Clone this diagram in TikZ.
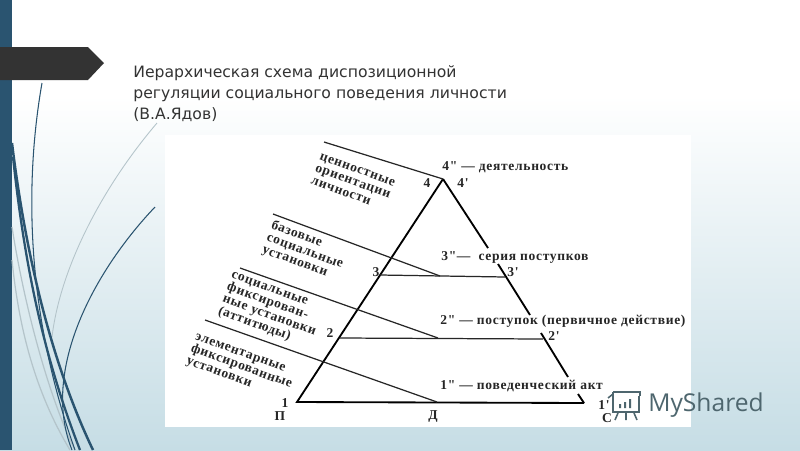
\documentclass[tikz,border=0pt]{standalone}
\usepackage{fontspec}
\setmainfont{Liberation Serif}
\newfontfamily\scanfont[LetterSpace=5]{Liberation Serif}
\newfontfamily\titlefont{DejaVu Sans}
\newfontfamily\markfont{Open Sans}
\definecolor{barblue}{HTML}{2A5470}
\definecolor{paleblue}{HTML}{C6DDE5}
\definecolor{tagdark}{HTML}{333333}
\definecolor{stemgrey}{HTML}{B4C4CA}
\definecolor{markgrey}{HTML}{4E666E}
\tikzset{
  stem/.style={barblue, line width=1.1pt},
  palestem/.style={stemgrey, line width=0.7pt},
  edgeline/.style={black, line width=1.05pt},
  levelline/.style={black!85, line width=0.7pt},
  lbl/.style={font=\scanfont\bfseries\fontsize{7.7}{7.4}\selectfont, inner sep=0pt, black!85},
  sidelbl/.style={lbl, rotate=-20, align=left}
}

\begin{document}
\begin{tikzpicture}[x=0.02cm, y=-0.02cm]
  \useasboundingbox (0,0) rectangle (800,450);

  % slide background
  \fill[white] (0,0) rectangle (800,95);
  \shade[top color=white, bottom color=paleblue] (0,95) rectangle (800,450);
  \fill[barblue] (0,0) rectangle (12,450);
  \fill[tagdark] (0,47) -- (88,47) -- (104,63) -- (88,80) -- (0,80) -- cycle;

  % grass
  \draw[palestem] (12,227) .. controls (25,310) and (50,400) .. (75,450);
  \draw[palestem] (12,260) .. controls (20,340) and (40,400) .. (70,450);
  \draw[palestem, line width=0.5pt] (157,123) .. controls (100,190) and (60,270) .. (52,337);
  \draw[stem, line width=1.4pt] (12,143) .. controls (25,250) and (50,360) .. (93,450);
  \draw[stem, line width=1.3pt] (13,157) .. controls (25,270) and (45,360) .. (80,450);
  \draw[stem, line width=0.6pt] (42,83) .. controls (25,180) and (25,310) .. (75,450);
  \draw[stem, line width=0.6pt] (155,207) .. controls (95,270) and (40,370) .. (72,450);

  \draw (133,94) node (title) [anchor=west, align=left, font=\titlefont\fontsize{8.9}{12}\selectfont, black!80, inner sep=0pt]
    {Иерархическая схема диспозиционной\\регуляции социального поведения личности\\(В.А.Ядов)};

  % scanned panel
  \fill[white] (165,135) rectangle (691,427);

  \coordinate (apex) at (443,179);
  \coordinate (baseL) at (297,402);
  \coordinate (baseR) at (584,403);
  \coordinate (baseM) at (437,402);
  \coordinate (lv3L) at (380,275);
  \coordinate (lv3M) at (440,276);
  \coordinate (lv3R) at (505,277);
  \coordinate (lv2L) at (340,338);
  \coordinate (lv2M) at (438,338);
  \coordinate (lv2R) at (543,339);
  \coordinate (top4) at (324,142);
  \coordinate (top3) at (273,214);
  \coordinate (top2) at (240,268);
  \coordinate (top1) at (205,320);
  \coordinate (gap3a) at (488,248);
  \coordinate (gap3b) at (498,264);
  \coordinate (gap2a) at (530,315);
  \coordinate (gap2b) at (541,333);
  \coordinate (gap1a) at (568,377);
  \coordinate (gap1b) at (578,394);

  \draw[edgeline] (apex) -- (baseL) -- (baseR);
  \draw[edgeline] (apex) -- (gap3a) (gap3b) -- (gap2a) (gap2b) -- (gap1a) (gap1b) -- (baseR);
  \draw[levelline] (lv3L) -- (lv3R);
  \draw[levelline] (lv2L) -- (lv2R);
  \draw[levelline] (top4) -- (apex);
  \draw[levelline] (top3) -- (lv3M);
  \draw[levelline] (top2) -- (lv2M);
  \draw[levelline] (top1) -- (baseM);

  \draw (353,182) node (val4) [sidelbl] {ценностные\\ориентации\\личности};
  \draw (305,251) node (val3) [sidelbl] {базовые\\социальные\\установки};
  \draw (271,311) node (val2) [sidelbl] {социальные\\фиксирован-\\ные установки\\(аттитюды)};
  \draw (241,368) node (val1) [sidelbl] {элементарные\\фиксированные\\установки};

  \draw (442,167) node (act4) [lbl, anchor=west] {4" — деятельность};
  \draw (441,257) node (act3) [lbl, anchor=west] {3"— \ серия поступков};
  \draw (440,321) node (act2) [lbl, anchor=west] {2" — поступок (первичное действие)};
  \draw (440,386) node (act1) [lbl, anchor=west] {1" — поведенческий акт};

  \draw (427,183) node (n4) [lbl] {4};
  \draw (463,183) node (n4r) [lbl] {4'};
  \draw (376,272) node (n3) [lbl] {3};
  \draw (513,272) node (n3r) [lbl] {3'};
  \draw (330,333) node (n2) [lbl] {2};
  \draw (554,336) node (n2r) [lbl] {2'};
  \draw (285,403) node (n1) [lbl] {1};
  \draw (604,405) node (n1r) [lbl] {1'};
  \draw (280,416) node (cP) [lbl] {П};
  \draw (433,417) node (cD) [lbl] {Д};
  \draw (607,418) node (cC) [lbl] {С};

  % watermark
  \begin{scope}[markgrey, line width=0.9pt]
    \draw (613,392) -- (640,392) -- (640,396) (613,392) -- (613,412) -- (639,412) -- (639,396);
    \draw (608,398) -- (613,394);
    \fill (619,404) rectangle (621,408) (624,402) rectangle (626,408) (629,399) rectangle (631,408);
    \draw (618,413) -- (615,420) (626,413) -- (626,420) (634,413) -- (637,420);
  \end{scope}
  \draw (648,405) node (mark) [anchor=west, inner sep=0pt, markgrey, font=\markfont\fontsize{14}{14}\selectfont] {MyShared};
\end{tikzpicture}
\end{document}
